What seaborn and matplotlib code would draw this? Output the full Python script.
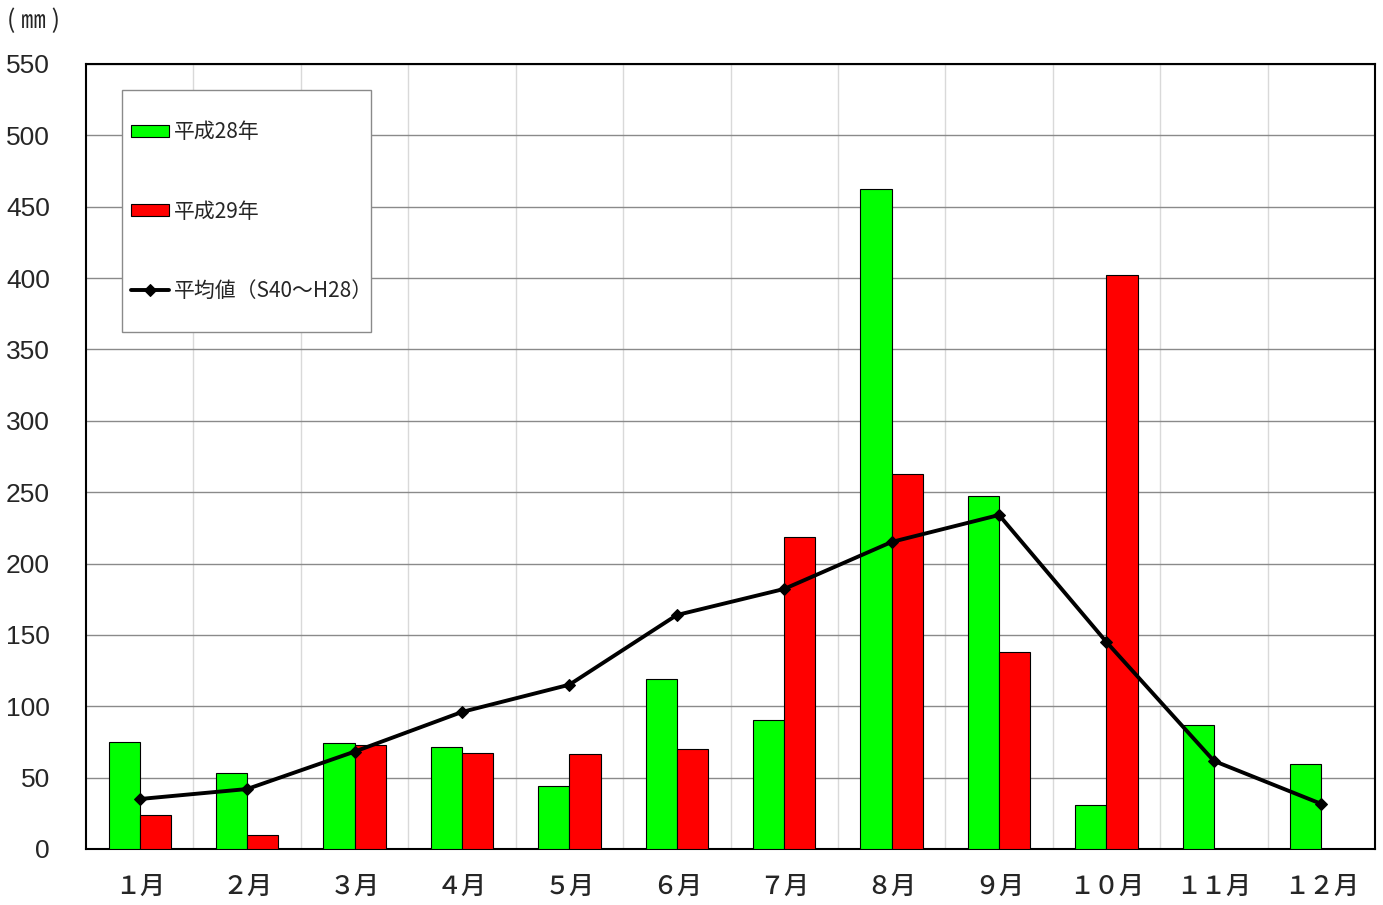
import numpy as np
import pandas as pd
import matplotlib
matplotlib.use("Agg")
import matplotlib.pyplot as plt
from matplotlib.patches import Rectangle
from matplotlib.ticker import MultipleLocator, FixedLocator
import seaborn as sns

# Monthly precipitation (mm)
months = ["１月", "２月", "３月", "４月", "５月", "６月",
          "７月", "８月", "９月", "１０月", "１１月", "１２月"]
h28 = [75.0, 53.0, 74.0, 71.7, 43.9, 119.1, 90.4, 462.4, 247.3, 30.7, 86.7, 59.7]
h29 = [23.6, 9.8, 72.6, 67.3, 66.3, 70.1, 218.6, 262.7, 138.0, 402.0, 0.0, 0.0]
avg = [35.0, 42.0, 68.2, 96.0, 115.1, 163.9, 182.2, 215.1, 234.0, 145.0, 61.7, 31.6]

series_names = ["平成28年", "平成29年"]
avg_name = "平均値（S40～H28）"

sns.set_theme(style="white")
plt.rcParams["font.family"] = ["Noto Sans CJK JP", "DejaVu Sans"]

df = pd.DataFrame({
    "month": months * 2,
    "value": h28 + h29,
    "series": [series_names[0]] * 12 + [series_names[1]] * 12,
})

fig = plt.figure(figsize=(13.83, 9.05), dpi=100)
ax = fig.add_axes([0.0622, 0.0619, 0.9320, 0.8674])

sns.barplot(data=df, x="month", y="value", hue="series", order=months,
            hue_order=series_names, palette=["#00FF00", "#FF0000"],
            width=0.58, edgecolor="black", linewidth=0.8, saturation=1,
            ax=ax, zorder=3)

sns.lineplot(x=np.arange(len(months)), y=avg, color="black", linewidth=2.8,
             marker="D", markersize=6.5, markeredgecolor="black",
             label=avg_name, ax=ax, zorder=4)

ax.set_xlim(-0.5, len(months) - 0.5)
ax.set_ylim(0, 550)
ax.yaxis.set_major_locator(MultipleLocator(50))
ax.set_xlabel("")
ax.set_ylabel("")

# Horizontal gridlines at every 50 mm, light vertical lines between months
ax.grid(axis="y", color="#8a8a8a", linewidth=1.0, zorder=0)
ax.xaxis.set_minor_locator(FixedLocator(np.arange(0.5, len(months) - 1, 1.0)))
ax.grid(axis="x", which="minor", color="#d9d9d9", linewidth=1.0, zorder=0)
ax.grid(axis="x", which="major", visible=False)
ax.set_axisbelow(True)

for s in ax.spines.values():
    s.set_color("black")
    s.set_linewidth(1.5)
    s.set_visible(True)

ax.tick_params(axis="y", which="major", direction="out", length=6,
               color="#777777", width=1, pad=20)
ax.tick_params(axis="x", which="major", length=0, pad=18)
ax.tick_params(axis="x", which="minor", direction="in", length=6,
               color="#555555", width=1)
for lbl in ax.get_yticklabels():
    lbl.set_fontfamily(["Liberation Sans", "DejaVu Sans"])
    lbl.set_fontsize(19)
for lbl in ax.get_xticklabels():
    lbl.set_fontsize(18)
    lbl.set_fontweight("medium")

fig.text(0.005, 0.977, "( ㎜ )", fontsize=18, ha="left", va="center")

# Legend box, with the entries placed inside it
ax.add_patch(Rectangle((0.0279, 0.6586), 0.1932, 0.3083,
                       transform=ax.transAxes, facecolor="white",
                       edgecolor="#8a8a8a", linewidth=1.0, zorder=5))
handles, labels = ax.get_legend_handles_labels()
leg = ax.legend(handles, labels, loc="center left",
                bbox_to_anchor=(0.0349, 0.812), frameon=False, fontsize=15,
                labelspacing=2.75, borderpad=0, handlelength=1.8,
                handleheight=0.5, handletextpad=0.25, borderaxespad=0)
leg.set_zorder(6)

fig.savefig("out.png", dpi=100)
